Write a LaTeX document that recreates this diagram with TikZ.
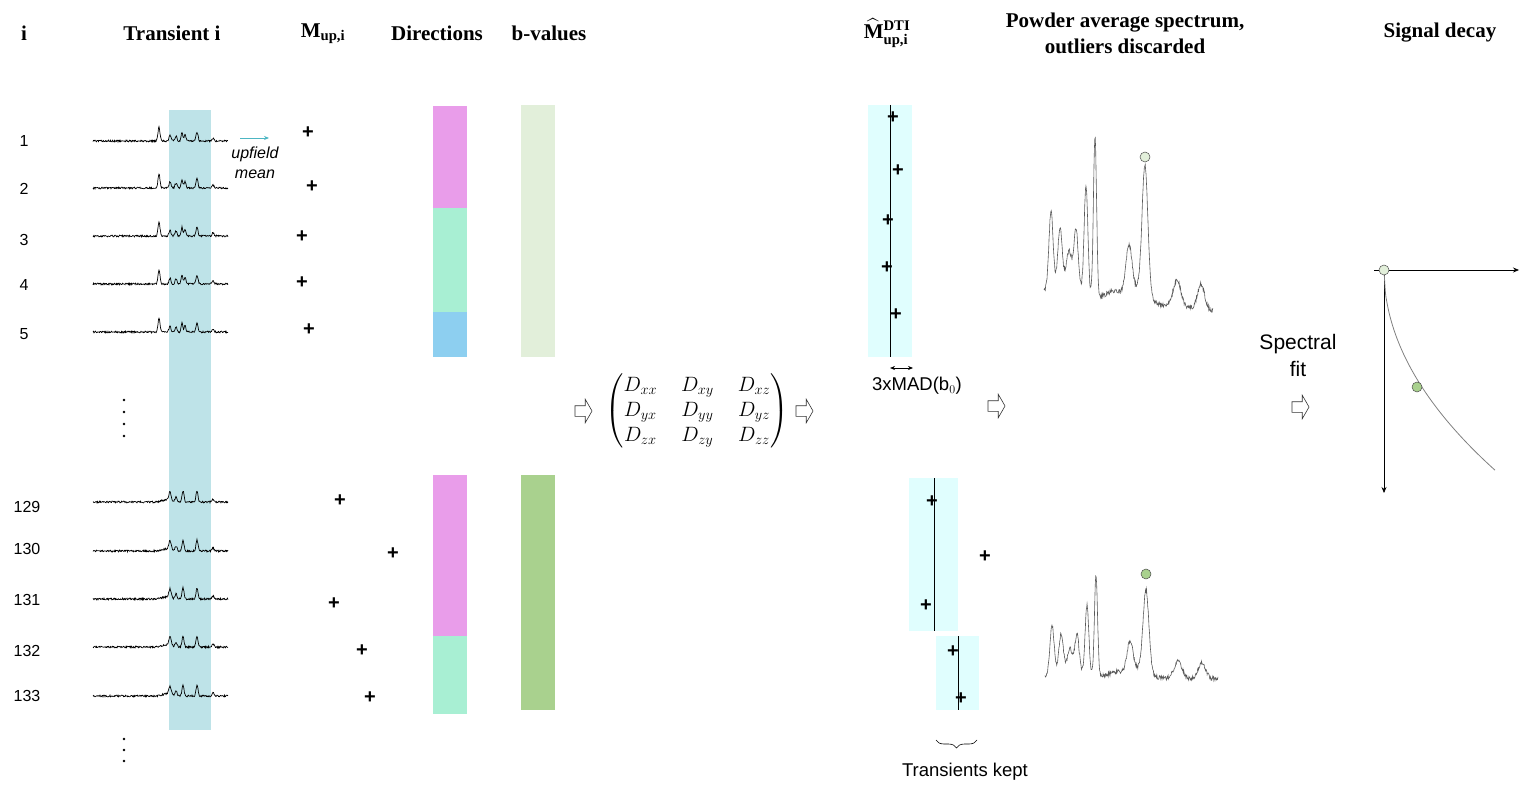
\documentclass[tikz,border=0pt]{standalone}
\usepackage{amsmath}
\usepackage{fontspec}
\setmainfont{Liberation Serif}
\setsansfont{Liberation Sans}
\usetikzlibrary{arrows.meta,shapes.arrows,decorations.pathreplacing}
\definecolor{bandblue}{HTML}{BEE3E8}
\definecolor{dirmagenta}{HTML}{E99DEA}
\definecolor{dirmint}{HTML}{A8EFD3}
\definecolor{dirblue}{HTML}{8DCFF0}
\definecolor{blight}{HTML}{E2EFDA}
\definecolor{bdark}{HTML}{A9D18E}
\definecolor{dtibox}{HTML}{E0FEFE}
\definecolor{upcyan}{HTML}{4DB6C3}

\begin{document}
\begin{tikzpicture}[x=1pt, y=-1pt,
        header/.style={font=\fontsize{21}{26}\selectfont\bfseries, align=center},
        rowlabel/.style={font=\sffamily\fontsize{16}{18}\selectfont},
        notelabel/.style={font=\sffamily\fontsize{18.5}{20}\selectfont},
        plusmark/.style={font=\sffamily\bfseries\fontsize{20}{20}\selectfont, inner sep=0pt},
        hollowarrow/.style={single arrow, draw=black!80, line width=0.6pt, fill=white,
            inner sep=5pt, minimum height=17pt, single arrow head extend=6.5pt,
            single arrow tip angle=120},
        trace/.style={line width=0.7pt, black},
        powderline/.style={line width=0.6pt, black!65},
        peakdot/.style={circle, draw=black!70, line width=0.5pt, inner sep=0pt, minimum size=10pt},
        declare function={
            gau(\xa,\xc,\xw,\xh)=\xh*exp(0-pow(min(abs(\xa-\xc)/\xw,8),2));
            toptr(\xa)=gau(\xa,6.6,0.14,14)+gau(\xa,7.7,0.14,6)+gau(\xa,8.3,0.14,5)
                +gau(\xa,8.9,0.12,9)+gau(\xa,9.2,0.12,7)+gau(\xa,10.4,0.14,9)+gau(\xa,12.0,0.14,3);
            bottr(\xa)=gau(\xa,7.7,0.17,9)+gau(\xa,8.3,0.14,5)+gau(\xa,9.0,0.14,11)
                +gau(\xa,10.4,0.14,11)+gau(\xa,12.0,0.14,3)+gau(\xa,7.3,0.6,2);
            powder(\xa)=gau(\xa,0.7,0.3,76)+gau(\xa,1.6,0.3,56)+gau(\xa,2.5,0.35,30)
                +gau(\xa,3.2,0.3,56)+gau(\xa,4.2,0.26,108)+gau(\xa,5.1,0.22,160)
                +gau(\xa,2.4,1.6,14)+gau(\xa,8.5,0.45,52)+gau(\xa,10.1,0.4,122)
                +gau(\xa,9.8,0.9,18)+gau(\xa,7.2,1.2,9)+gau(\xa,13.3,0.55,26)+gau(\xa,15.7,0.5,25);
        }]
        \useasboundingbox (0,0) rectangle (1536,797);

        % HEADERS
        \node[header] (hi) at (24,33) {i};
        \node[header] (htrans) at (172,33) {Transient i};
        \node[header] (hmup) at (323,34) {M$_{\textbf{up,i}}$};
        \node[header] (hdir) at (437,33) {Directions};
        \node[header] (hbval) at (549,33) {b-values};
        \node[header] (hdti) at (887,34) {${\smash[t]{\widehat{\textbf{M}}}}^{\textbf{DTI}}_{\textbf{up,i}}$};
        \node[header] (hpowder) at (1125,33) {Powder average spectrum,\\outliers discarded};
        \node[header] (hdecay) at (1440,33) {Signal decay};

        % BANDS AND BARS
        \fill[bandblue] (169,110) rectangle (211,730);
        \fill[dirmagenta] (433,106) rectangle (467,208);
        \fill[dirmint] (433,208) rectangle (467,312);
        \fill[dirblue] (433,312) rectangle (467,357);
        \fill[dirmagenta] (433,475) rectangle (467,636);
        \fill[dirmint] (433,636) rectangle (467,714);
        \fill[blight] (521,105) rectangle (555,357);
        \fill[bdark] (521,475) rectangle (555,710);

        % TRANSIENTS 1-5
        \foreach \n/\yy/\px/\py/\ly in {1/141/308/133/141, 2/188/312/187/189,
                3/236/302/237/240, 4/284/302/283/285, 5/332/309/330/334} {
            \node[rowlabel] (row\n) at (24,\ly) {\n};
            \draw[trace] plot[domain=0:13.5, samples=271] ({93+10*\x}, {\yy-toptr(\x)+0.9*rand});
            \node[plusmark] (mup\n) at (\px,\py) {+};
        }
        % TRANSIENTS 129-133
        \foreach \n/\yy/\px/\py/\ly in {129/502/340/501/507, 130/551/393/554/549,
                131/599/334/604/600, 132/647/362/651/651, 133/696/370/698/696} {
            \node[rowlabel] (row\n) at (27,\ly) {\n};
            \draw[trace] plot[domain=0:13.5, samples=271] ({93+10*\x}, {\yy-bottr(\x)+0.9*rand});
            \node[plusmark] (mup\n) at (\px,\py) {+};
        }
        % vertical dots
        \foreach \d in {400,412,424,436} \fill (124,\d) circle (1.3);
        \foreach \d in {739,750,761} \fill (124,\d) circle (1.3);

        % upfield mean
        \coordinate (upa) at (240,138);
        \coordinate (upb) at (269,138);
        \draw[upcyan, line width=0.9pt, -{Stealth[length=5pt, width=4pt]}] (upa) -- (upb);
        \node[font=\sffamily\itshape\fontsize{16}{20}\selectfont, align=center] (upmean) at (255,163) {upfield\\mean};

        % TENSOR
        \node[hollowarrow] (arr1) at (582,411) {};
        \node (dmat) at (697,411) {\fontsize{20.74}{25}\selectfont\setlength{\arraycolsep}{12pt}%
            $\begin{pmatrix} D_{xx} & D_{xy} & D_{xz}\\ D_{yx} & D_{yy} & D_{yz}\\ D_{zx} & D_{zy} & D_{zz} \end{pmatrix}$};
        \node[hollowarrow] (arr2) at (803,411) {};

        % DTI OUTLIER WINDOWS
        \fill[dtibox] (868,105) rectangle (912,357);
        \draw[line width=1pt] (890,105) -- (890,357);
        \foreach \n/\px/\py in {1/893/118, 2/898/171, 3/888/221, 4/887/268, 5/896/315}
            \node[plusmark] (dti\n) at (\px,\py) {+};
        \coordinate (madl) at (890,368);
        \coordinate (madr) at (913,368);
        \draw[line width=0.7pt, {Stealth[length=5pt, width=4pt]}-{Stealth[length=5pt, width=4pt]}] (madl) -- (madr);
        \node[notelabel] (mad) at (917,386) {3xMAD(b$_0$)};

        \fill[dtibox] (909,478) rectangle (958,631);
        \draw[line width=1pt] (934,478) -- (934,631);
        \fill[dtibox] (936,636) rectangle (979,710);
        \draw[line width=1pt] (958,636) -- (958,710);
        \foreach \n/\px/\py in {129/932/502, 130/985/557, 131/926/606, 132/953/652, 133/961/699}
            \node[plusmark] (dti\n) at (\px,\py) {+};
        \coordinate (keptr) at (977,740);
        \coordinate (keptl) at (936,740);
        \draw[line width=0.6pt, decorate, decoration={brace, amplitude=8pt}] (keptr) -- (keptl);
        \node[notelabel] (kept) at (965,772) {Transients kept};

        \node[hollowarrow] (arr3) at (995,406) {};

        % POWDER AVERAGE SPECTRA
        \draw[powderline] plot[domain=0:16.9, samples=400] ({1044+10*\x}, {292+1.1*\x-powder(\x)+2.2*rand});
        \node[peakdot, fill=blight] (peaktop) at (1145,157) {};
        \draw[powderline] plot[domain=0:17.3, samples=400] ({1045+10*\x}, {677+0.1*\x-0.64*powder(\x)+2.2*rand});
        \node[peakdot, fill=bdark] (peakbot) at (1146,574) {};

        % SPECTRAL FIT
        \node[font=\sffamily\fontsize{21}{27}\selectfont, align=center] (fit) at (1298,355) {Spectral\\fit};
        \node[hollowarrow] (arr4) at (1299,407) {};

        % SIGNAL DECAY
        \coordinate (orig) at (1384,270);
        \coordinate (xstub) at (1374,270);
        \coordinate (xend) at (1519,270);
        \coordinate (yend) at (1384,493);
        \draw[line width=0.7pt, -{Stealth[length=6pt, width=5pt]}] (xstub) -- (xend);
        \draw[line width=0.7pt, -{Stealth[length=6pt, width=5pt]}] (orig) -- (yend);
        \draw[black!50, line width=0.8pt] plot[domain=0:111, samples=80, smooth] ({1384+\x}, {270+19*sqrt(\x)});
        \node[peakdot, fill=blight] (dot0) at (orig) {};
        \node[peakdot, fill=bdark] (dot1) at (1417,387) {};
    \end{tikzpicture}
\end{document}
